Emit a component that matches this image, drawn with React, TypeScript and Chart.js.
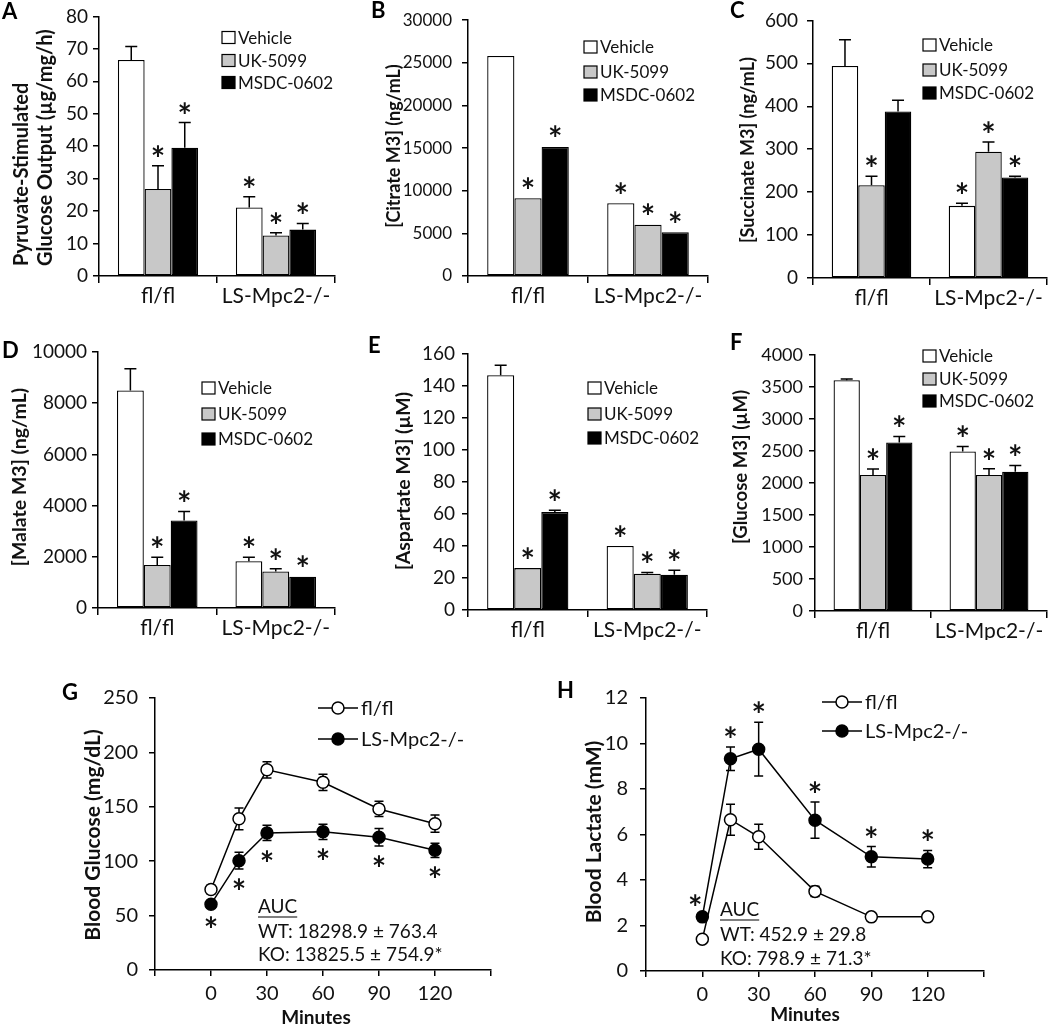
import React, { useEffect, useRef } from "react";
import { Chart, registerables } from "chart.js";
Chart.register(...registerables);

const FONT = "Lato, 'Open Sans', 'DejaVu Sans', sans-serif";
const INK = "#111111";

// ---------- shared categories ----------
const groups = ["fl/fl", "LS-Mpc2-/-"];
const treatments = ["Vehicle", "UK-5099", "MSDC-0602"];
const treatmentFills = ["#ffffff", "#c8c8c8", "#000000"];

// ---------- Panel A: pyruvate-stimulated glucose output ----------
const pyruvateOutputMean = [[66.6, 21.1], [26.8, 12.5], [39.5, 14.3]];
const pyruvateOutputSem = [[4.1, 3.3], [7.2, 0.8], [7.8, 1.9]];
const pyruvateOutputStars = [[false, true], [true, true], [true, true]];

// ---------- Panel B: citrate M3 ----------
const citrateMean = [[25800, 8540], [9120, 6010], [15130, 5130]];
const citrateSem = [[60, 50], [80, 40], [80, 50]];
const citrateStars = [[false, true], [true, true], [true, true]];

// ---------- Panel C: succinate M3 ----------
const succinateMean = [[494, 168], [216, 294], [388, 234]];
const succinateSem = [[61, 6], [21, 23], [26, 3]];
const succinateStars = [[false, true], [true, true], [false, true]];

// ---------- Panel D: malate M3 ----------
const malateMean = [[8500, 1830], [1680, 1430], [3420, 1225]];
const malateSem = [[850, 150], [300, 100], [350, 20]];
const malateStars = [[false, true], [true, true], [true, true]];

// ---------- Panel E: aspartate M3 ----------
const aspartateMean = [[146.7, 40.0], [26.2, 22.7], [61.2, 22.1]];
const aspartateSem = [[6.2, 0.3], [0.3, 0.8], [1.2, 2.7]];
const aspartateStars = [[false, true], [true, true], [true, true]];

// ---------- Panel F: glucose M3 ----------
const glucoseM3Mean = [[3605, 2494], [2125, 2125], [2634, 2177]];
const glucoseM3Sem = [[20, 77], [93, 98], [93, 98]];
const glucoseM3Stars = [[false, true], [true, true], [true, true]];

// ---------- Panels G/H: time courses ----------
const minutes = [0, 15, 30, 60, 90, 120];
const minuteTicks = [0, 30, 60, 90, 120];
const genotypes = ["fl/fl", "LS-Mpc2-/-"];

const glucoseFlMean = [74, 139, 184, 172.5, 148, 134.5];
const glucoseFlSem = [4, 10, 7.5, 7.5, 7, 8];
const glucoseKoMean = [60.5, 100.5, 126, 127, 122, 110];
const glucoseKoSem = [3, 7.7, 7, 7, 8, 6.5];
const glucoseKoStars = [true, true, true, true, true, true];
const glucoseAuc = ["AUC", "WT: 18298.9 ± 763.4", "KO: 13825.5 ± 754.9*"];

const lactateFlMean = [1.4, 6.65, 5.9, 3.5, 2.38, 2.38];
const lactateFlSem = [0.1, 0.68, 0.55, 0.22, 0.08, 0.08];
const lactateKoMean = [2.38, 9.33, 9.75, 6.63, 5.02, 4.92];
const lactateKoSem = [0.1, 0.52, 1.18, 0.8, 0.45, 0.38];
const lactateKoStars = [true, true, true, true, true, true];
const lactateAuc = ["AUC", "WT: 452.9 ± 29.8", "KO: 798.9 ± 71.3*"];

// ---------- layout (page coordinates) ----------
type BarPanel = {
  letter: string; mean: number[][]; sem: number[][]; stars: boolean[][];
  yMax: number; step: number; title: string[];
  canvas: number[]; plot: number[]; tickPad: number; tickSize: number; titleSize: number; letterPos: number[];
  legend: number[]; titlePos: { x: number[]; y: number; align: CanvasTextAlign };
};

const barPanels: BarPanel[] = [
  { letter: "A", mean: pyruvateOutputMean, sem: pyruvateOutputSem, stars: pyruvateOutputStars, yMax: 80, step: 10,
    title: ["Pyruvate-Stimulated", "Glucose Output (µg/mg/h)"],
    canvas: [0, 0, 340, 320], plot: [99, 16, 335, 276], tickPad: 5, tickSize: 19, titleSize: 20, letterPos: [2, 19],
    legend: [222, 37.5, 60.5, 82.5], titlePos: { x: [22, 46], y: 266, align: "left" } },
  { letter: "B", mean: citrateMean, sem: citrateSem, stars: citrateStars, yMax: 30000, step: 5000,
    title: ["[Citrate M3] (ng/mL)"],
    canvas: [340, 0, 380, 320], plot: [468, 15, 708, 276], tickPad: 10, tickSize: 17, titleSize: 18, letterPos: [371, 18],
    legend: [584, 47, 72, 95], titlePos: { x: [394], y: 146, align: "center" } },
  { letter: "C", mean: succinateMean, sem: succinateSem, stars: succinateStars, yMax: 600, step: 100,
    title: ["[Succinate M3] (ng/mL)"],
    canvas: [700, 0, 350, 320], plot: [813, 16, 1047, 278], tickPad: 9, tickSize: 19, titleSize: 18, letterPos: [730, 18],
    legend: [923, 45, 70, 93], titlePos: { x: [748], y: 150, align: "center" } },
  { letter: "D", mean: malateMean, sem: malateSem, stars: malateStars, yMax: 10000, step: 2000,
    title: ["[Malate M3] (ng/mL)"],
    canvas: [0, 320, 340, 320], plot: [98, 352, 335, 608], tickPad: 5, tickSize: 19, titleSize: 19.5, letterPos: [2, 358],
    legend: [202, 388, 414, 439], titlePos: { x: [20], y: 477, align: "center" } },
  { letter: "E", mean: aspartateMean, sem: aspartateSem, stars: aspartateStars, yMax: 160, step: 20,
    title: ["[Aspartate M3] (µM)"],
    canvas: [340, 320, 380, 320], plot: [468, 354, 707, 610], tickPad: 7, tickSize: 19, titleSize: 19.5, letterPos: [368, 353],
    legend: [588, 388, 414, 438], titlePos: { x: [404], y: 481, align: "center" } },
  { letter: "F", mean: glucoseM3Mean, sem: glucoseM3Sem, stars: glucoseM3Stars, yMax: 4000, step: 500,
    title: ["[Glucose M3] (µM)"],
    canvas: [700, 320, 350, 320], plot: [815, 355, 1047, 611], tickPad: 6, tickSize: 18, titleSize: 18.5, letterPos: [730, 350],
    legend: [923, 356, 379, 401], titlePos: { x: [741], y: 467, align: "center" } },
];

type LinePanel = {
  letter: string; fl: number[]; flSem: number[]; ko: number[]; koSem: number[]; stars: boolean[];
  starsAbove: boolean; yMax: number; step: number; title: string; auc: string[];
  canvas: number[]; plot: number[]; tickPad: number; letterPos: number[];
  legend: number[]; titlePos: number[]; aucPos: number[]; minutesPos: number[];
};

const linePanels: LinePanel[] = [
  { letter: "G", fl: glucoseFlMean, flSem: glucoseFlSem, ko: glucoseKoMean, koSem: glucoseKoSem, stars: glucoseKoStars,
    starsAbove: false, yMax: 250, step: 50, title: "Blood Glucose (mg/dL)", auc: glucoseAuc,
    canvas: [0, 640, 530, 386], plot: [155, 698, 491, 970], tickPad: 11, letterPos: [62, 700],
    legend: [318, 358, 708, 739], titlePos: [93, 835], aucPos: [258, 907, 932, 955], minutesPos: [316, 1018] },
  { letter: "H", fl: lactateFlMean, flSem: lactateFlSem, ko: lactateKoMean, koSem: lactateKoSem, stars: lactateKoStars,
    starsAbove: true, yMax: 12, step: 2, title: "Blood Lactate (mM)", auc: lactateAuc,
    canvas: [530, 640, 520, 386], plot: [646, 698, 984, 971], tickPad: 12, letterPos: [557, 698],
    legend: [822, 862, 702, 731], titlePos: [594, 832], aucPos: [720, 910, 935, 959], minutesPos: [805, 1015] },
];

// ---------- drawing helpers ----------
function drawStar(ctx: CanvasRenderingContext2D, x: number, cy: number) {
  ctx.save();
  ctx.font = `bold 34px ${FONT}`;
  ctx.fillStyle = INK;
  ctx.textAlign = "center";
  ctx.textBaseline = "alphabetic";
  const m = ctx.measureText("*");
  const asc = m.actualBoundingBoxAscent, desc = m.actualBoundingBoxDescent;
  ctx.fillText("*", x, cy + (asc - desc) / 2);
  ctx.restore();
}

function rotText(ctx: CanvasRenderingContext2D, text: string, x: number, y: number, align: CanvasTextAlign) {
  ctx.save();
  ctx.translate(x, y);
  ctx.rotate(-Math.PI / 2);
  ctx.textAlign = align;
  ctx.textBaseline = "middle";
  ctx.fillText(text, 0, 0);
  ctx.restore();
}

function vErr(ctx: CanvasRenderingContext2D, x: number, y1: number, y2: number, cap: number) {
  ctx.beginPath();
  ctx.moveTo(x, y1);
  ctx.lineTo(x, y2);
  ctx.moveTo(x - cap, y2);
  ctx.lineTo(x + cap, y2);
  ctx.stroke();
}

function makeBar(canvas: HTMLCanvasElement, p: BarPanel) {
  const [cx, cy, cw, ch] = p.canvas;
  const [pl, pt, pr, pb] = p.plot;
  const yW = pl - cx;
  const xH = cy + ch - pb;
  const extras = {
    id: "extras" + p.letter,
    afterDatasetsDraw(chart: any) {
      const ctx: CanvasRenderingContext2D = chart.ctx;
      const ys = chart.scales.y;
      ctx.save();
      ctx.strokeStyle = "#000";
      ctx.lineWidth = 1.5;
      p.mean.forEach((row, i) => {
        const meta = chart.getDatasetMeta(i);
        row.forEach((v, j) => {
          const el = meta.data[j];
          const top = ys.getPixelForValue(v + p.sem[i][j]);
          const base = ys.getPixelForValue(v);
          if (base - top > 1) vErr(ctx, el.x, base, top, 6);
          if (p.stars[i][j]) drawStar(ctx, el.x, top - 15);
        });
      });
      // legend
      ctx.font = `17px ${FONT}`;
      ctx.textBaseline = "middle";
      ctx.textAlign = "left";
      treatments.forEach((t, i) => {
        const lx = p.legend[0] - cx;
        const ly = p.legend[1 + i] - cy;
        ctx.fillStyle = treatmentFills[i];
        ctx.fillRect(lx, ly - 6, 13, 12);
        ctx.lineWidth = 1.2;
        ctx.strokeStyle = "#000";
        ctx.strokeRect(lx, ly - 6, 13, 12);
        ctx.fillStyle = INK;
        ctx.fillText(t, lx + 16, ly + 1);
      });
      // panel letter
      ctx.font = `bold 22px ${FONT}`;
      ctx.textBaseline = "alphabetic";
      ctx.fillStyle = "#000";
      ctx.fillText(p.letter, p.letterPos[0] - cx, p.letterPos[1] - cy);
      // y title
      ctx.font = `bold ${p.titleSize}px ${FONT}`;
      ctx.fillStyle = INK;
      p.title.forEach((line, k) => {
        rotText(ctx, line, p.titlePos.x[k] - cx, p.titlePos.y - cy, p.titlePos.align);
      });
      ctx.restore();
    },
  };
  return new Chart(canvas, {
    type: "bar",
    data: {
      labels: groups,
      datasets: treatments.map((t, i) => ({
        label: t,
        data: p.mean[i],
        backgroundColor: treatmentFills[i],
        borderColor: "#000",
        borderWidth: 1.3,
        borderSkipped: false,
        categoryPercentage: 0.68,
        barPercentage: 1.0,
      })),
    },
    options: {
      responsive: false,
      animation: false,
      devicePixelRatio: 1,
      layout: { padding: { top: pt - cy, right: cx + cw - pr, left: 0, bottom: 0 } },
      plugins: { legend: { display: false }, tooltip: { enabled: false } },
      scales: {
        x: {
          grid: { drawOnChartArea: false, drawTicks: true, tickLength: 7, color: "#000", lineWidth: 1.5, offset: true },
          border: { display: true, color: "#000", width: 1.5 },
          ticks: { font: { family: FONT, size: 21 }, color: INK, padding: 1 },
          afterFit: (s: any) => { s.height = xH; },
        },
        y: {
          min: 0,
          max: p.yMax,
          ticks: { stepSize: p.step, font: { family: FONT, size: p.tickSize }, color: INK, padding: p.tickPad, callback: (v: any) => String(v) },
          grid: { drawOnChartArea: false, tickLength: 6, color: "#000", lineWidth: 1.5 },
          border: { color: "#000", width: 1.5 },
          afterFit: (s: any) => { s.width = yW; },
        },
      },
    },
    plugins: [extras],
  } as any);
}

function makeLine(canvas: HTMLCanvasElement, p: LinePanel) {
  const [cx, cy, cw, ch] = p.canvas;
  const [pl, pt, pr, pb] = p.plot;
  const yW = pl - cx;
  const xH = cy + ch - pb;
  const series = [
    { mean: p.fl, sem: p.flSem },
    { mean: p.ko, sem: p.koSem },
  ];
  const extras = {
    id: "extras" + p.letter,
    beforeDatasetsDraw(chart: any) {
      const ctx: CanvasRenderingContext2D = chart.ctx;
      const xs = chart.scales.x, ys = chart.scales.y;
      ctx.save();
      ctx.strokeStyle = "#000";
      ctx.lineWidth = 1.5;
      series.forEach((s) => {
        s.mean.forEach((v, j) => {
          const x = xs.getPixelForValue(minutes[j]);
          const hi = ys.getPixelForValue(v + s.sem[j]);
          const lo = ys.getPixelForValue(v - s.sem[j]);
          const mid = ys.getPixelForValue(v);
          if (mid - hi > 1) {
            vErr(ctx, x, mid, hi, 4.5);
            vErr(ctx, x, mid, lo, 4.5);
          }
        });
      });
      ctx.restore();
    },
    afterDatasetsDraw(chart: any) {
      const ctx: CanvasRenderingContext2D = chart.ctx;
      const xs = chart.scales.x, ys = chart.scales.y;
      ctx.save();
      p.stars.forEach((st, j) => {
        if (!st) return;
        const x = xs.getPixelForValue(minutes[j]) - (p.starsAbove && j === 0 ? 7 : 0);
        const y = p.starsAbove
          ? ys.getPixelForValue(p.ko[j] + p.koSem[j]) - 15
          : ys.getPixelForValue(p.ko[j] - p.koSem[j]) + 15;
        drawStar(ctx, x, y);
      });
      // legend
      ctx.strokeStyle = "#000";
      ctx.lineWidth = 1.5;
      ctx.font = `20px ${FONT}`;
      ctx.textBaseline = "middle";
      ctx.textAlign = "left";
      genotypes.forEach((g, i) => {
        const x1 = p.legend[0] - cx, x2 = p.legend[1] - cx, y = p.legend[2 + i] - cy;
        ctx.beginPath();
        ctx.moveTo(x1, y);
        ctx.lineTo(x2, y);
        ctx.stroke();
        ctx.beginPath();
        ctx.arc((x1 + x2) / 2, y, 6, 0, Math.PI * 2);
        ctx.fillStyle = i === 0 ? "#fff" : "#000";
        ctx.fill();
        ctx.stroke();
        ctx.fillStyle = INK;
        ctx.fillText(g, x2 + 3, y + 1);
      });
      // AUC text
      ctx.font = `19px ${FONT}`;
      ctx.fillStyle = INK;
      p.auc.forEach((t, k) => {
        const x = p.aucPos[0] - cx, y = p.aucPos[1 + k] - cy;
        ctx.fillText(t, x, y);
        if (k === 0) {
          const w = ctx.measureText(t).width;
          ctx.beginPath();
          ctx.lineWidth = 1.2;
          ctx.moveTo(x, y + 10);
          ctx.lineTo(x + w, y + 10);
          ctx.stroke();
        }
      });
      // letter
      ctx.font = `bold 22px ${FONT}`;
      ctx.textBaseline = "alphabetic";
      ctx.fillStyle = "#000";
      ctx.fillText(p.letter, p.letterPos[0] - cx, p.letterPos[1] - cy);
      // axis titles
      ctx.font = `bold 21px ${FONT}`;
      ctx.fillStyle = INK;
      rotText(ctx, p.title, p.titlePos[0] - cx, p.titlePos[1] - cy, "center");
      ctx.font = `bold 19px ${FONT}`;
      ctx.textAlign = "center";
      ctx.textBaseline = "middle";
      ctx.fillText("Minutes", p.minutesPos[0] - cx, p.minutesPos[1] - cy);
      ctx.restore();
    },
  };
  const mk = (arr: number[]) => arr.map((v, j) => ({ x: minutes[j], y: v }));
  return new Chart(canvas, {
    type: "line",
    data: {
      datasets: [
        { label: genotypes[0], data: mk(p.fl), borderColor: "#000", borderWidth: 1.5, pointRadius: 6,
          pointBackgroundColor: "#fff", pointBorderColor: "#000", pointBorderWidth: 1.5, tension: 0, fill: false },
        { label: genotypes[1], data: mk(p.ko), borderColor: "#000", borderWidth: 1.5, pointRadius: 6,
          pointBackgroundColor: "#000", pointBorderColor: "#000", pointBorderWidth: 1.5, tension: 0, fill: false },
      ],
    },
    options: {
      responsive: false,
      animation: false,
      devicePixelRatio: 1,
      layout: { padding: { top: pt - cy, right: cx + cw - pr, left: 0, bottom: 0 } },
      plugins: { legend: { display: false }, tooltip: { enabled: false } },
      scales: {
        x: {
          type: "linear",
          min: -30,
          max: 150,
          ticks: {
            stepSize: 30, autoSkip: false, font: { family: FONT, size: 20 }, color: INK, padding: 6,
            callback: (v: any) => (minuteTicks.includes(v) ? String(v) : ""),
          },
          grid: { drawOnChartArea: false, tickLength: 6, color: "#000", lineWidth: 1.5 },
          border: { color: "#000", width: 1.5 },
          afterFit: (s: any) => { s.height = xH; },
        },
        y: {
          min: 0,
          max: p.yMax,
          ticks: { stepSize: p.step, font: { family: FONT, size: 20 }, color: INK, padding: p.tickPad },
          grid: { drawOnChartArea: false, tickLength: 6, color: "#000", lineWidth: 1.5 },
          border: { color: "#000", width: 1.5 },
          afterFit: (s: any) => { s.width = yW; },
        },
      },
    },
    plugins: [extras],
  } as any);
}

export default function App() {
  const refs = useRef<(HTMLCanvasElement | null)[]>([]);
  useEffect(() => {
    const charts: Chart[] = [];
    barPanels.forEach((p, i) => { const c = refs.current[i]; if (c) charts.push(makeBar(c, p)); });
    linePanels.forEach((p, i) => { const c = refs.current[6 + i]; if (c) charts.push(makeLine(c, p)); });
    return () => charts.forEach((c) => c.destroy());
  }, []);
  const all = [...barPanels.map((p) => p.canvas), ...linePanels.map((p) => p.canvas)];
  return (
    <div style={{ position: "absolute", left: 0, top: 0, width: 1050, height: 1026, background: "#fff", overflow: "hidden" }}>
      {all.map((c, i) => (
        <canvas
          key={i}
          ref={(el) => { refs.current[i] = el; }}
          width={c[2]}
          height={c[3]}
          style={{ position: "absolute", left: c[0], top: c[1], width: c[2], height: c[3] }}
        />
      ))}
    </div>
  );
}
